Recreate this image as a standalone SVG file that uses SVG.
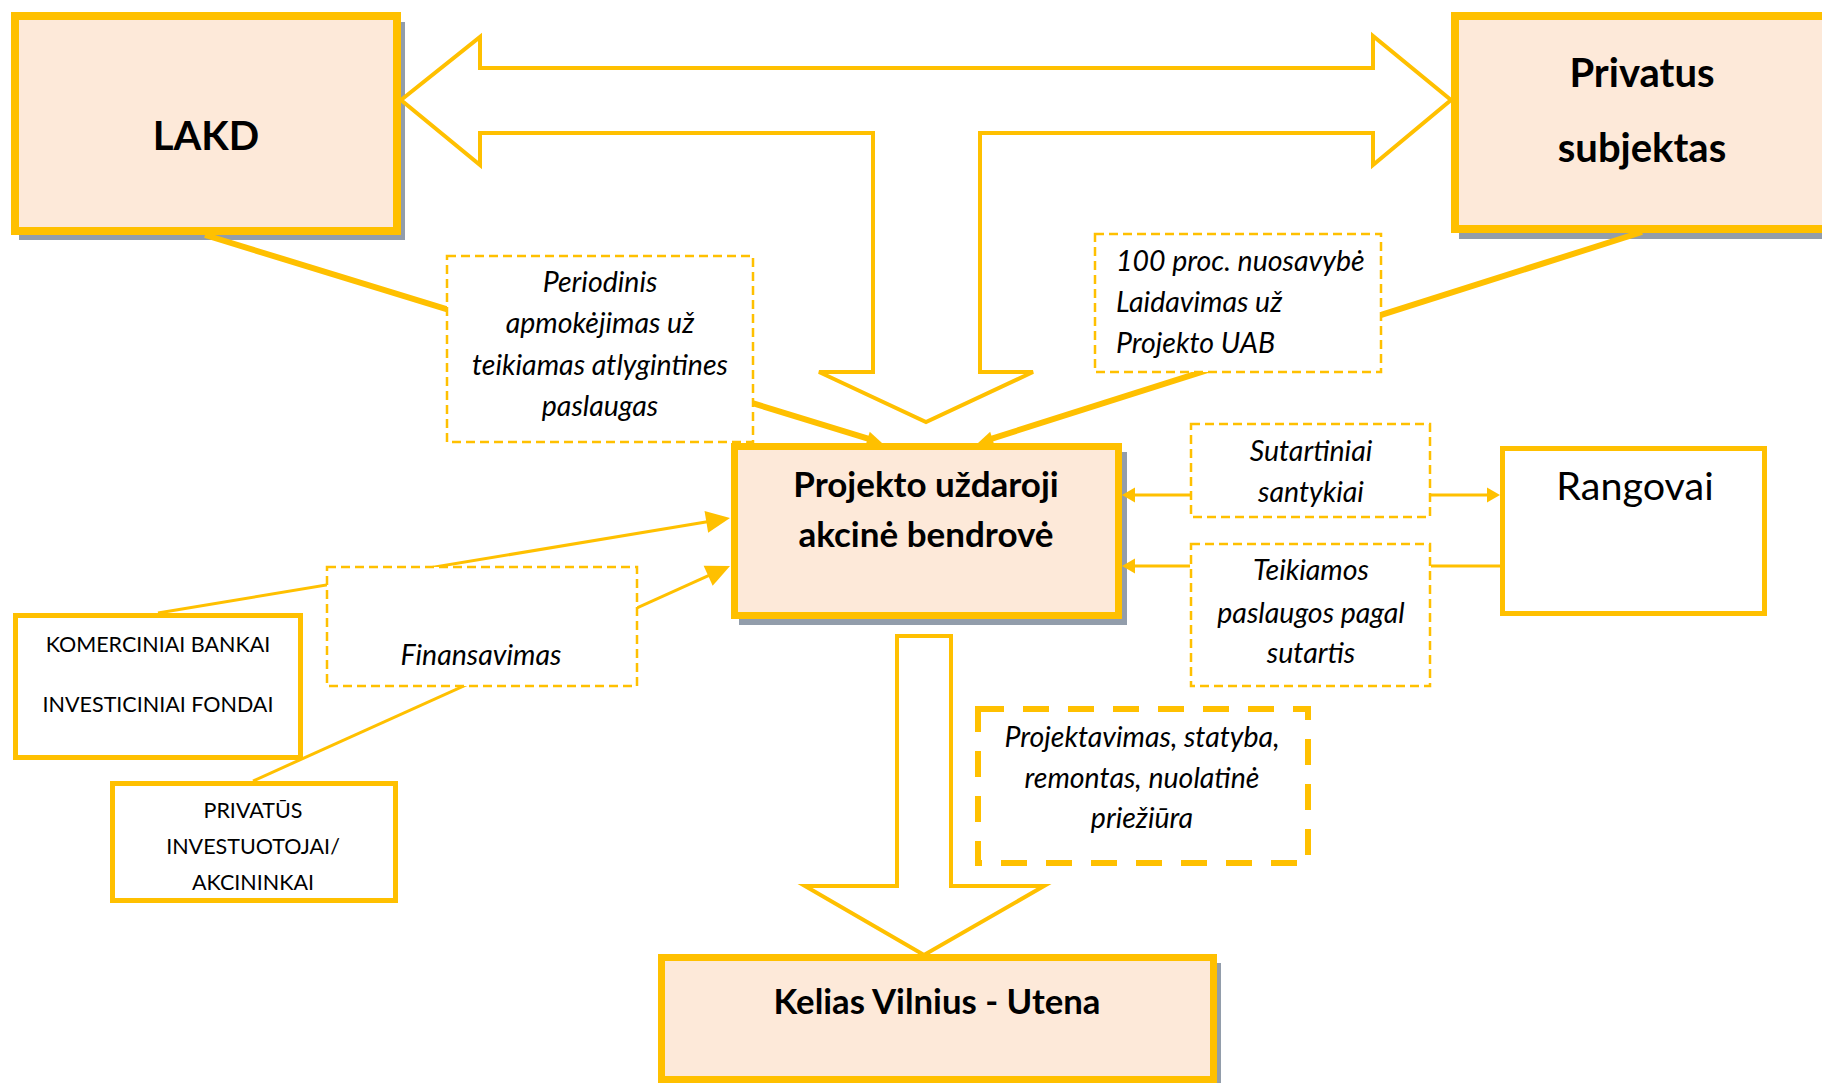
<svg xmlns="http://www.w3.org/2000/svg" width="1822" height="1083" viewBox="0 0 1822 1083">
<style>
.main{fill:#FDE9D9;stroke:#FFC000;stroke-width:8}
.shadow{fill:#929DAB}
.plain{fill:#FFFFFF;stroke:#FFC000;stroke-width:5}
.dash{fill:#FFFFFF;stroke:#FFC000;stroke-width:2.5;stroke-dasharray:9 5}
.dashThick{fill:#FFFFFF;stroke:#FFC000;stroke-width:6;stroke-dasharray:26 19}
.block{fill:#FFFFFF;stroke:#FFC000;stroke-width:4;stroke-linejoin:miter}
.thick{stroke:#FFC000;stroke-width:6;fill:none}
.thin{stroke:#FFC000;stroke-width:3;fill:none}
text{font-family:Lato,"Open Sans","Liberation Sans",sans-serif;fill:#000000}
.b{font-weight:bold}
.it{font-style:italic;font-size:28.5px}
.caps{font-size:21.5px}
.mid{text-anchor:middle}
</style>
<defs>
<marker id="ahT" markerUnits="userSpaceOnUse" markerWidth="15" markerHeight="14" refX="2" refY="7" orient="auto" overflow="visible"><path d="M0,0 L15,7 L0,14 z" fill="#FFC000"/></marker>
<marker id="ahS" markerUnits="userSpaceOnUse" markerWidth="13" markerHeight="15" refX="3" refY="7.5" orient="auto" overflow="visible"><path d="M0,0 L13,7.5 L0,15 z" fill="#FFC000"/></marker>
<marker id="ahL" markerUnits="userSpaceOnUse" markerWidth="24" markerHeight="22" refX="4" refY="11" orient="auto" overflow="visible"><path d="M0,0 L24,11 L0,22 z" fill="#FFC000"/></marker>
</defs>
<rect width="1822" height="1083" fill="#FFFFFF"/>
<g id="lakd">
<rect class="shadow" x="19" y="22" width="386" height="218"/>
<rect class="main" x="15" y="16" width="382" height="215"/>
<text class="b mid" x="206" y="150" font-size="40">LAKD</text>
</g>
<g id="privatus">
<rect class="shadow" x="1459" y="22" width="400" height="217"/>
<rect class="main" x="1455" y="16" width="400" height="213"/>
<text class="b mid" x="1642" y="87" font-size="40">Privatus</text>
<text class="b mid" x="1642" y="162" font-size="40">subjektas</text>
</g>
<g id="projekto">
<rect class="shadow" x="739" y="452" width="388" height="173"/>
<rect class="main" x="734.5" y="446.5" width="384" height="169" style="stroke-width:7"/>
<text class="b mid" x="926" y="497" font-size="35">Projekto uždaroji</text>
<text class="b mid" x="926" y="547" font-size="35">akcinė bendrovė</text>
</g>
<g id="kelias">
<rect class="shadow" x="665" y="963" width="556" height="126"/>
<rect class="main" x="661.5" y="957.5" width="552" height="122" style="stroke-width:7"/>
<text class="b mid" x="937" y="1014" font-size="34.7">Kelias Vilnius - Utena</text>
</g>
<g id="rangovai">
<rect class="plain" x="1502.5" y="448.5" width="262" height="165"/>
<text class="mid" x="1635" y="500" font-size="39.5">Rangovai</text>
</g>
<g id="bankai">
<rect class="plain" x="15.5" y="615.5" width="285" height="142"/>
<text class="caps mid" x="158" y="652">KOMERCINIAI BANKAI</text>
<text class="caps mid" x="158" y="712">INVESTICINIAI FONDAI</text>
</g>
<g id="investuotojai">
<rect class="plain" x="112.5" y="783.5" width="283" height="117"/>
<text class="caps mid" x="253" y="818">PRIVATŪS</text>
<text class="caps mid" x="253" y="854">INVESTUOTOJAI/</text>
<text class="caps mid" x="253" y="890">AKCININKAI</text>
</g>
<g id="connectors">
<polygon class="block" points="401,100 480,37 480,68 1373,68 1373,36 1451,100 1373,165 1373,133 980,133 980,372 1033,372 926,422 819,372 873,372 873,133 480,133 480,165"/>
<polygon class="block" points="897,636 951,636 951,886 1044,886 924,955 805,886 897,886"/>
<line class="thick" x1="205" y1="235" x2="869.6" y2="439.1" marker-end="url(#ahT)"/>
<line class="thick" x1="1642" y1="232" x2="990.4" y2="439.1" marker-end="url(#ahT)"/>
<line class="thin" x1="158" y1="613" x2="710.3" y2="521.3" marker-end="url(#ahL)"/>
<line class="thin" x1="253" y1="781" x2="711.8" y2="574.2" marker-end="url(#ahL)"/>
<line class="thin" x1="1190" y1="495" x2="1132" y2="495" marker-end="url(#ahS)"/>
<line class="thin" x1="1431" y1="495" x2="1490" y2="495" marker-end="url(#ahS)"/>
<line class="thin" x1="1190" y1="566" x2="1132" y2="566" marker-end="url(#ahS)"/>
<line class="thin" x1="1431" y1="566" x2="1501" y2="566"/>
</g>
<g id="periodinis">
<rect class="dash" x="447" y="256" width="306" height="186"/>
<text class="it mid" x="600" y="292">Periodinis</text>
<text class="it mid" x="600" y="333">apmokėjimas už</text>
<text class="it mid" x="600" y="375">teikiamas atlygintines</text>
<text class="it mid" x="600" y="416">paslaugas</text>
</g>
<g id="nuosavybe">
<rect class="dash" x="1095" y="234" width="286" height="138"/>
<text class="it" x="1116" y="271">100 proc. nuosavybė</text>
<text class="it" x="1116" y="312">Laidavimas už</text>
<text class="it" x="1116" y="353">Projekto UAB</text>
</g>
<g id="sutartiniai">
<rect class="dash" x="1191" y="424" width="239" height="93"/>
<text class="it mid" x="1311" y="461">Sutartiniai</text>
<text class="it mid" x="1311" y="502">santykiai</text>
</g>
<g id="teikiamos">
<rect class="dash" x="1191" y="544" width="239" height="142"/>
<text class="it mid" x="1311" y="580">Teikiamos</text>
<text class="it mid" x="1311" y="623">paslaugos pagal</text>
<text class="it mid" x="1311" y="663">sutartis</text>
</g>
<g id="finansavimas">
<rect class="dash" x="327" y="567" width="310" height="119"/>
<text class="it mid" x="481" y="665">Finansavimas</text>
</g>
<g id="projektavimas">
<rect class="dashThick" x="978" y="709" width="330" height="154"/>
<text class="it mid" x="1142" y="747">Projektavimas, statyba,</text>
<text class="it mid" x="1142" y="788">remontas, nuolatinė</text>
<text class="it mid" x="1142" y="828">priežiūra</text>
</g>
</svg>
